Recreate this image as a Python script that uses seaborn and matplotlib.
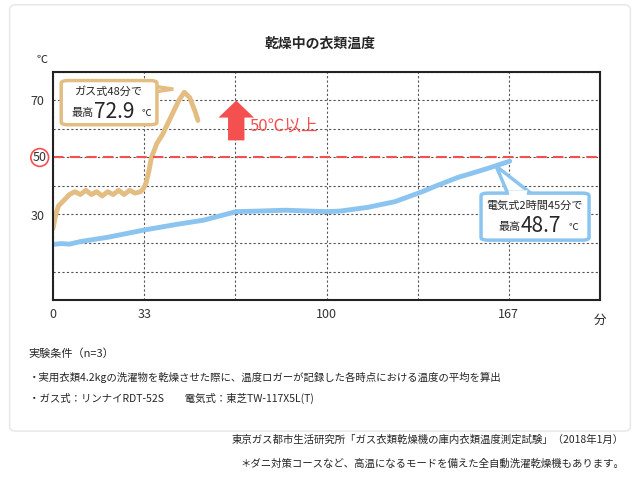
import numpy as np
import pandas as pd
import matplotlib.pyplot as plt
import seaborn as sns
from matplotlib.patches import FancyBboxPatch, FancyArrow, Polygon

sns.set_style("white")
plt.rcParams['font.family'] = ['Noto Sans CJK JP', 'DejaVu Sans']

# ガス式 (minutes, °C)
gas_min = [0, 1, 2, 4, 6, 8, 10, 12, 14, 16, 18, 20, 22, 24, 26, 28, 30, 32, 33, 34, 35, 36, 38, 40, 42, 44, 46, 48, 50, 52, 53]
gas_temp = [25, 30, 33, 35, 37, 38, 37, 38.5, 37, 38, 36.5, 38, 37, 38.5, 37, 38.5, 37.5, 38, 39, 41, 45, 50, 55, 58, 62, 66, 70, 72.9, 71, 66, 63]
# 電気式
ele_min = [0, 3, 6, 10, 20, 33, 45, 55, 67, 75, 85, 100, 105, 115, 125, 135, 140, 148, 155, 160, 167]
ele_temp = [19.5, 19.8, 19.6, 20.5, 22, 24.5, 26.5, 28, 31, 31.2, 31.5, 31, 31.2, 32.5, 34.5, 38, 40, 43, 45, 46.5, 48.7]

gas = pd.DataFrame({"min": gas_min, "temp": gas_temp})
ele = pd.DataFrame({"min": ele_min, "temp": ele_temp})

GAS_C = "#e3bd82"
ELE_C = "#8cc4f0"
RED = "#f55050"

fig = plt.figure(figsize=(6.4, 4.79), dpi=100)
fig.patches.append(FancyBboxPatch((0.015, 0.1), 0.97, 0.89, boxstyle="round,pad=0,rounding_size=0.01",
                                  transform=fig.transFigure, fill=False, ec="#e6e6e6", lw=1))
ax = fig.add_axes([53/640, 1-300/479, 547/640, 228/479])

sns.lineplot(data=gas, x="min", y="temp", ax=ax, color=GAS_C, lw=3.5)
sns.lineplot(data=ele, x="min", y="temp", ax=ax, color=ELE_C, lw=3.5)

ax.set_xlim(0, 200)
ax.set_ylim(0, 80)
ax.set_xticks(np.arange(0, 201, 200/6))
ax.set_xticklabels(["0", "33", "", "100", "", "167", ""])
ax.set_yticks(range(0, 81, 10))
ax.set_yticklabels(["", "", "", "30", "", "", "", "70", ""])
ax.grid(True, ls=(0, (2, 2)), color="#555555", lw=0.8)
ax.axhline(50, color=RED, ls=(0, (5, 3)), lw=1.5)
for s in ax.spines.values():
    s.set_color("#222222")
    s.set_linewidth(1.5)
ax.tick_params(colors="#333333", labelsize=9, length=0, pad=6)
ax.set_xlabel("")
ax.set_ylabel("")
ax.text(-2.3, 50, "50", color="#333333", fontsize=9, ha="right", va="center",
        bbox=dict(boxstyle="circle,pad=0.15", fc="white", ec=RED, lw=1.2))
ax.text(-0.01, 1.03, "℃", transform=ax.transAxes, fontsize=8, ha="right", va="bottom")
ax.text(1.0, -0.06, "分", transform=ax.transAxes, fontsize=9, ha="center", va="top")
fig.text(0.5, 0.9, "乾燥中の衣類温度", ha="center", fontsize=10, weight="bold")

# arrow + label
ax.add_patch(FancyArrow(67, 56, 0, 14, width=6, head_width=13, head_length=6,
                        length_includes_head=True, color=RED, lw=0))
ax.text(72, 61, "50℃以上", color=RED, fontsize=12, va="center")

# gas callout
ax.add_patch(Polygon([(30, 76), (44, 74), (30, 72)], closed=True, fc="white", ec=GAS_C, lw=2.5, zorder=4))
ax.add_patch(FancyBboxPatch((3, 61.5), 35, 15.5, boxstyle="round,pad=0,rounding_size=2.5",
                            fc="white", ec=GAS_C, lw=2.5, zorder=5, mutation_aspect=80/200*228/547*2.2))
ax.add_patch(Polygon([(29, 75.5), (32, 74), (29, 72.5)], closed=True, fc="white", ec="none", zorder=6))
ax.text(20.5, 73, "ガス式48分で", ha="center", va="center", fontsize=8, zorder=7)
ax.text(15, 65.5, "最高", ha="right", va="center", fontsize=8, zorder=7)
ax.text(15, 66, "72.9", ha="left", va="center", fontsize=15, zorder=7)
ax.text(32.5, 65.5, "℃", ha="left", va="center", fontsize=7, zorder=7)

# electric callout
ax.add_patch(Polygon([(162, 47), (166, 38), (174, 38)], closed=True, fc="white", ec=ELE_C, lw=2.5, zorder=4))
ax.add_patch(FancyBboxPatch((156.5, 21), 39.5, 16.5, boxstyle="round,pad=0,rounding_size=2.5",
                            fc="white", ec=ELE_C, lw=2.5, zorder=5, mutation_aspect=80/200*228/547*2.2))
ax.add_patch(Polygon([(166.5, 38.5), (167, 36), (173, 36), (173.5, 38.5)], closed=True, fc="white", ec="none", zorder=6))
ax.text(176, 33, "電気式2時間45分で", ha="center", va="center", fontsize=8, zorder=7)
ax.text(171, 25.5, "最高", ha="right", va="center", fontsize=8, zorder=7)
ax.text(171, 26, "48.7", ha="left", va="center", fontsize=15, zorder=7)
ax.text(188.5, 25.5, "℃", ha="left", va="center", fontsize=7, zorder=7)

fig.text(0.045, 0.255, "実験条件（n=3）", fontsize=8)
fig.text(0.045, 0.205, "・実用衣類4.2kgの洗濯物を乾燥させた際に、温度ロガーが記録した各時点における温度の平均を算出", fontsize=7.5)
fig.text(0.045, 0.16, "・ガス式：リンナイRDT-52S　　電気式：東芝TW-117X5L(T)", fontsize=7.5)
fig.text(0.975, 0.075, "東京ガス都市生活研究所「ガス衣類乾燥機の庫内衣類温度測定試験」（2018年1月）", fontsize=7.5, ha="right")
fig.text(0.975, 0.025, "＊ダニ対策コースなど、高温になるモードを備えた全自動洗濯乾燥機もあります。", fontsize=7.5, ha="right")

fig.savefig("out.png", dpi=100)
